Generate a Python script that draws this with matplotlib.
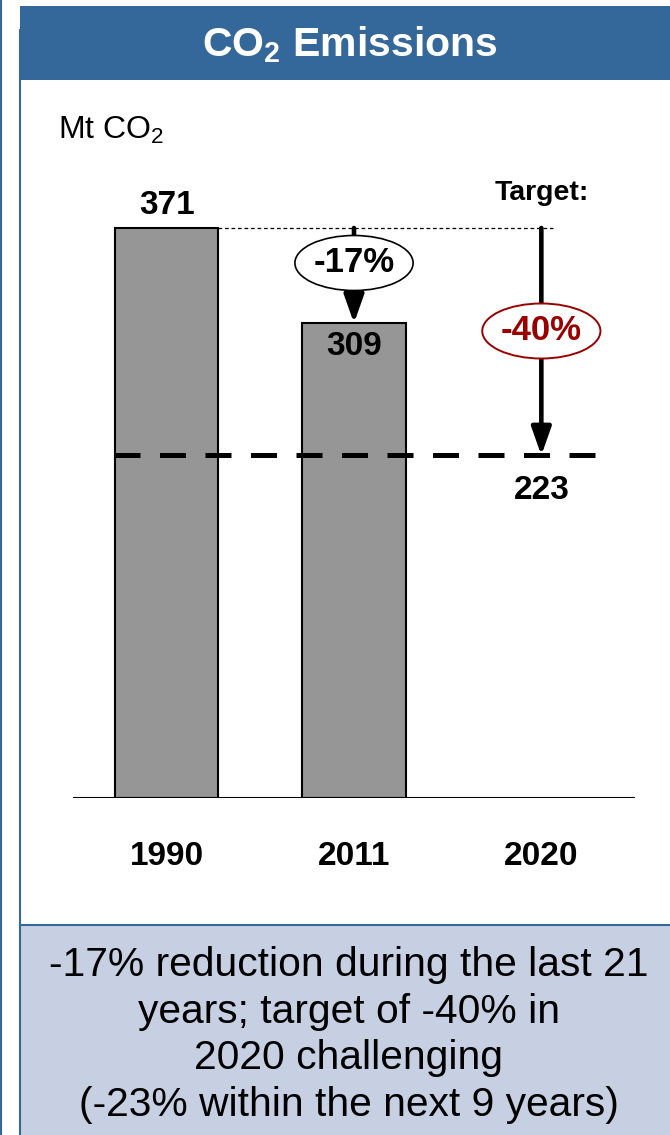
import matplotlib
matplotlib.use("Agg")
import matplotlib.pyplot as plt
from matplotlib.patches import Rectangle, Ellipse
from matplotlib.lines import Line2D

plt.rcParams['font.family'] = ['Liberation Sans', 'DejaVu Sans']

# emissions in Mt CO2
years = ["1990", "2011", "2020"]
emissions = [371, 309]
target_2020 = 223
change_2011 = "-17%"
change_target = "-40%"

W, H = 670, 1135
fig = plt.figure(figsize=(W / 100, H / 100), dpi=100)

def fx(px):
    return px / W

def fy(py):
    return 1 - py / H

blue = "#34679a"
grey = "#969696"
red = "#9b0000"

# panel frame, header and summary box
fig.add_artist(Line2D([fx(1), fx(1)], [0, 1], color=blue, lw=1.5))
fig.add_artist(Line2D([fx(20), fx(20)], [0, fy(30)], color=blue, lw=1.5))
fig.add_artist(Rectangle((fx(20), fy(80)), fx(650), fy(6) - fy(80),
                         facecolor=blue, edgecolor="none"))
fig.text(fx(350), fy(45), "CO$_\\mathregular{2}$ Emissions", color="white",
         fontsize=29.5, fontweight="bold", ha="center", va="center")
fig.add_artist(Rectangle((fx(20), 0), fx(650), fy(925),
                         facecolor="#c6d0e2", edgecolor="none"))
fig.add_artist(Line2D([fx(20), 1], [fy(925), fy(925)], color=blue, lw=1.5))
fig.text(fx(349), fy(1035),
         "-17% reduction during the last 21\nyears; target of -40% in\n"
         "2020 challenging\n(-23% within the next 9 years)",
         fontsize=29.3, ha="center", va="center", linespacing=1.28)
fig.text(fx(58), fy(130), "Mt CO$_\\mathregular{2}$", fontsize=23,
         ha="left", va="center")

# chart area
top_px = 180
ax = fig.add_axes([fx(73), fy(798), fx(635) - fx(73), fy(top_px) - fy(798)])
ymax = 371 * (798 - top_px) / (798 - 228)
ax.set_xlim(-0.5, 2.5)
ax.set_ylim(0, ymax)
ax.axis("off")

bw = 0.55
x = list(range(len(emissions)))
ax.bar(x, emissions, width=bw, color=grey, edgecolor="black", lw=1.5, zorder=2)
ax.axhline(0, color="black", lw=1.5, zorder=3)

# 1990 reference level (dotted) and 2020 target level (dashed)
ax.plot([bw / 2, 2.06], [emissions[0]] * 2, color="black", lw=0.9,
        linestyle=(0, (3, 2.2)), zorder=1)
ax.plot([-bw / 2 - 0.008, 2.34], [target_2020] * 2, color="black", lw=3.6,
        linestyle=(0, (5.2, 3.9)), zorder=4)

arrow = dict(arrowstyle="-|>,head_length=0.85,head_width=0.3", lw=3.3,
             color="black", shrinkA=0, shrinkB=0, mutation_scale=20)
ax.annotate("", xy=(1, emissions[1]), xytext=(1, emissions[0]),
            arrowprops=arrow, zorder=5)
ax.annotate("", xy=(2, target_2020), xytext=(2, emissions[0]),
            arrowprops=arrow, zorder=5)

# percentage bubbles
px_y = (798 - 228) / 371
ell_w = 118 / 187
ell_h = 55 / px_y
y17 = (798 - 263) / px_y
y40 = (798 - 331) / px_y
ax.add_patch(Ellipse((1, y17), ell_w, ell_h, facecolor="white",
                     edgecolor="black", lw=1.2, zorder=6))
ax.text(1, y17, change_2011, fontsize=25, fontweight="bold",
        ha="center", va="center", zorder=7)
ax.add_patch(Ellipse((2, y40), ell_w, ell_h, facecolor="white",
                     edgecolor=red, lw=1.4, zorder=6))
ax.text(2, y40, change_target, fontsize=25, fontweight="bold", color=red,
        ha="center", va="center", zorder=7)

# value labels
ax.annotate(str(emissions[0]), xy=(0, emissions[0]), xytext=(0, 16.5),
            textcoords="offset points", ha="center", va="center",
            fontsize=24, fontweight="bold")
ax.annotate(str(emissions[1]), xy=(1, emissions[1]), xytext=(0, -16.5),
            textcoords="offset points", ha="center", va="center",
            fontsize=24, fontweight="bold", zorder=7)
ax.annotate(str(target_2020), xy=(2, target_2020), xytext=(0, -25),
            textcoords="offset points", ha="center", va="center",
            fontsize=24, fontweight="bold")
ax.annotate("Target:", xy=(2, emissions[0]), xytext=(0, 25),
            textcoords="offset points", ha="center", va="center",
            fontsize=20.5, fontweight="bold")

for i, yr in enumerate(years):
    ax.annotate(yr, xy=(i, 0), xytext=(0, -42), textcoords="offset points",
                ha="center", va="center", fontsize=24, fontweight="bold",
                annotation_clip=False)

fig.savefig("out.png", dpi=100)
